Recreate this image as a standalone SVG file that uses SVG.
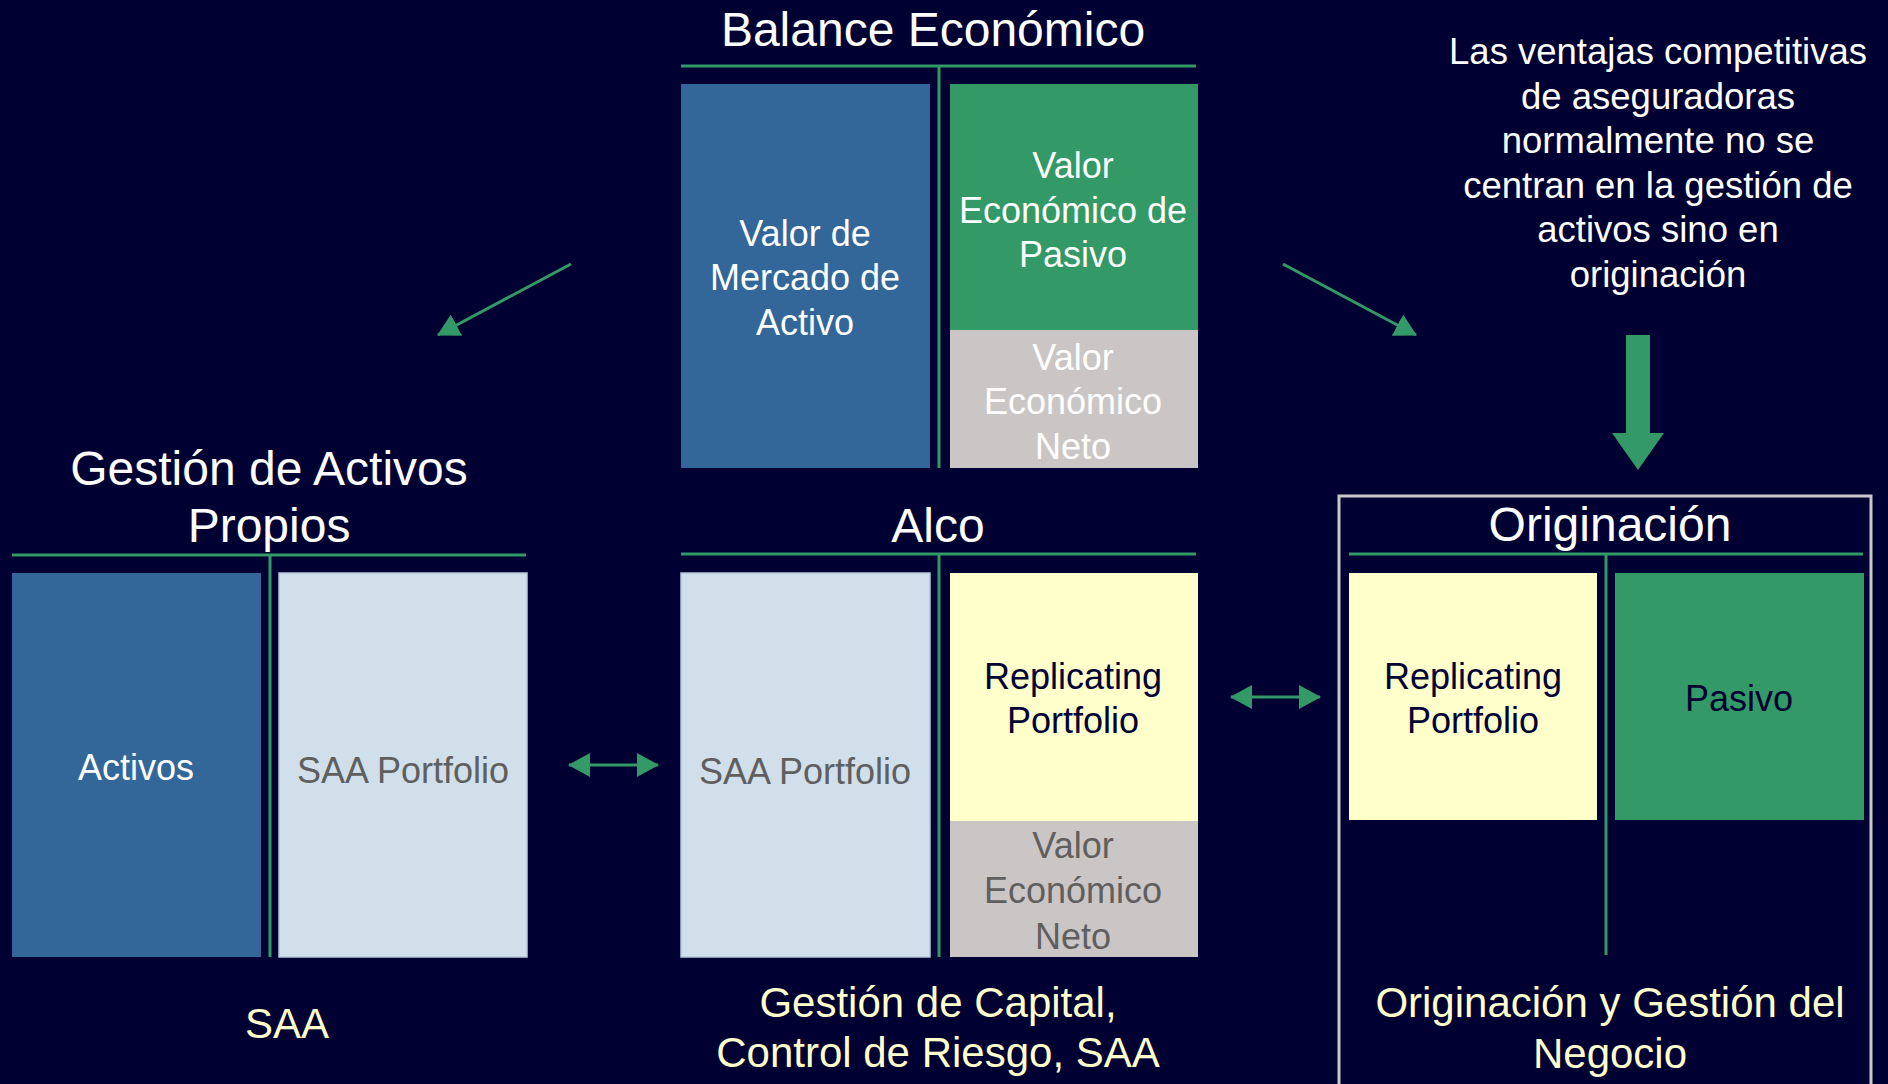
<svg xmlns="http://www.w3.org/2000/svg" width="1888" height="1084" viewBox="0 0 1888 1084">
<style>
.title{font-family:"Liberation Sans",Arial,sans-serif;font-size:48px;fill:#ffffff;text-anchor:middle}
.body{font-family:"Liberation Sans",Arial,sans-serif;font-size:36px;text-anchor:middle}
.note{font-size:36.5px}
.foot{font-family:"Liberation Sans",Arial,sans-serif;font-size:42px;fill:#ffffcc;text-anchor:middle}
.rule{stroke:#339966;stroke-width:3;fill:none}
.blue{fill:#336699}
.green{fill:#339966}
.grey{fill:#cbc6c6}
.light{fill:#d1dfea;stroke:#b6c8da;stroke-width:1.5}
.yellow{fill:#ffffcc}
.w{fill:#ffffff}
.dk{fill:#000033}
.g{fill:#5f5f5f}
.conn{stroke:#339966;stroke-width:3;fill:none}
</style>
<defs>
<marker id="ah" markerUnits="userSpaceOnUse" markerWidth="22" markerHeight="24" viewBox="0 0 22 24" refX="21" refY="12" orient="auto-start-reverse">
<path d="M0,0 L22,12 L0,24 Z" fill="#339966"/>
</marker>
</defs>
<rect x="0" y="0" width="1888" height="1084" fill="#000033"/>

<g id="balance">
<text class="title" x="933" y="46">Balance Económico</text>
<line class="rule" x1="681" y1="66" x2="1196" y2="66"/>
<line class="rule" x1="939" y1="66" x2="939" y2="468"/>
</g>
<g id="valor-mercado-activo">
<rect class="blue" x="681" y="84" width="249" height="384"/>
<text class="body w" x="805" y="246">Valor de</text>
<text class="body w" x="805" y="290">Mercado de</text>
<text class="body w" x="805" y="335">Activo</text>
</g>
<g id="valor-economico-pasivo">
<rect class="green" x="950" y="84" width="248" height="246"/>
<text class="body w" x="1073" y="178">Valor</text>
<text class="body w" x="1073" y="223">Económico de</text>
<text class="body w" x="1073" y="267">Pasivo</text>
</g>
<g id="valor-economico-neto-top">
<rect class="grey" x="950" y="330" width="248" height="138"/>
<text class="body w" x="1073" y="370">Valor</text>
<text class="body w" x="1073" y="414">Económico</text>
<text class="body w" x="1073" y="459">Neto</text>
</g>

<g id="nota">
<text class="body note w" x="1658" y="64">Las ventajas competitivas</text>
<text class="body note w" x="1658" y="109">de aseguradoras</text>
<text class="body note w" x="1658" y="153">normalmente no se</text>
<text class="body note w" x="1658" y="198">centran en la gestión de</text>
<text class="body note w" x="1658" y="242">activos sino en</text>
<text class="body note w" x="1658" y="287">originación</text>
</g>

<g id="gestion-activos">
<text class="title" x="269" y="485">Gestión de Activos</text>
<text class="title" x="269" y="542">Propios</text>
<line class="rule" x1="12" y1="555" x2="526" y2="555"/>
<line class="rule" x1="270" y1="555" x2="270" y2="957"/>
<text class="foot" x="287" y="1038">SAA</text>
</g>
<g id="activos">
<rect class="blue" x="12" y="573" width="249" height="384"/>
<text class="body w" x="136" y="780">Activos</text>
</g>
<g id="saa-portfolio-left">
<rect class="light" x="279" y="573" width="248" height="384"/>
<text class="body g" x="403" y="783">SAA Portfolio</text>
</g>

<g id="alco">
<text class="title" x="938" y="542">Alco</text>
<line class="rule" x1="681" y1="554" x2="1196" y2="554"/>
<line class="rule" x1="939" y1="554" x2="939" y2="957"/>
<text class="foot" x="938" y="1017">Gestión de Capital,</text>
<text class="foot" x="938" y="1067">Control de Riesgo, SAA</text>
</g>
<g id="saa-portfolio-alco">
<rect class="light" x="681" y="573" width="249" height="384"/>
<text class="body g" x="805" y="784">SAA Portfolio</text>
</g>
<g id="replicating-alco">
<rect class="yellow" x="950" y="573" width="248" height="248"/>
<text class="body dk" x="1073" y="689">Replicating</text>
<text class="body dk" x="1073" y="733">Portfolio</text>
</g>
<g id="valor-economico-neto-alco">
<rect class="grey" x="950" y="821" width="248" height="136"/>
<text class="body g" x="1073" y="858">Valor</text>
<text class="body g" x="1073" y="903">Económico</text>
<text class="body g" x="1073" y="949">Neto</text>
</g>

<g id="originacion">
<rect x="1339" y="496" width="532" height="620" fill="none" stroke="#c8c8c8" stroke-width="3"/>
<text class="title" x="1610" y="541">Originación</text>
<line class="rule" x1="1349" y1="554" x2="1863" y2="554"/>
<line class="rule" x1="1606" y1="554" x2="1606" y2="955"/>
<text class="foot" x="1610" y="1017">Originación y Gestión del</text>
<text class="foot" x="1610" y="1068">Negocio</text>
</g>
<g id="replicating-orig">
<rect class="yellow" x="1349" y="573" width="248" height="247"/>
<text class="body dk" x="1473" y="689">Replicating</text>
<text class="body dk" x="1473" y="733">Portfolio</text>
</g>
<g id="pasivo">
<rect class="green" x="1615" y="573" width="249" height="247"/>
<text class="body dk" x="1739" y="711">Pasivo</text>
</g>

<g id="connectors">
<line class="conn" x1="571" y1="264" x2="438" y2="335" marker-end="url(#ah)"/>
<line class="conn" x1="1283" y1="264" x2="1416" y2="335" marker-end="url(#ah)"/>
<line class="conn" x1="569" y1="765" x2="658" y2="765" marker-start="url(#ah)" marker-end="url(#ah)"/>
<line class="conn" x1="1231" y1="697" x2="1320" y2="697" marker-start="url(#ah)" marker-end="url(#ah)"/>
<path d="M1626,335 L1650,335 L1650,433 L1664,433 L1638,470 L1612,433 L1626,433 Z" fill="#339966"/>
</g>
</svg>
